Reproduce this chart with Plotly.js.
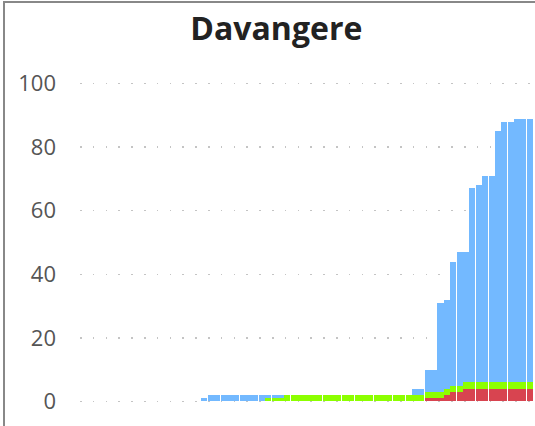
<!DOCTYPE html>
<html>
<head>
<meta charset="utf-8">
<script src="https://cdn.plot.ly/plotly-3.0.1.min.js"></script>
<style>
html, body { margin: 0; padding: 0; width: 535px; height: 426px; overflow: hidden; background: #fff; }
#frame { position: absolute; left: 3px; top: 1px; width: 556px; height: 460px; border: 2px solid #888; background: #fff; }
#chart { width: 556px; height: 460px; }
</style>
</head>
<body>
<div id="frame"><div id="chart"></div></div>
<script>
const chartTitle = "Davangere";
const dates = [
  "14 Mar","15 Mar","16 Mar","17 Mar","18 Mar","19 Mar","20 Mar","21 Mar","22 Mar","23 Mar",
  "24 Mar","25 Mar","26 Mar","27 Mar","28 Mar","29 Mar","30 Mar","31 Mar",
  "1 Apr","2 Apr","3 Apr","4 Apr","5 Apr","6 Apr","7 Apr","8 Apr","9 Apr","10 Apr",
  "11 Apr","12 Apr","13 Apr","14 Apr","15 Apr","16 Apr","17 Apr","18 Apr","19 Apr","20 Apr",
  "21 Apr","22 Apr","23 Apr","24 Apr","25 Apr","26 Apr","27 Apr","28 Apr","29 Apr","30 Apr",
  "1 May","2 May","3 May","4 May","5 May","6 May","7 May","8 May","9 May","10 May",
  "11 May","12 May","13 May","14 May","15 May","16 May","17 May","18 May","19 May","20 May",
  "21 May","22 May","23 May"
];
const deceased = [
  0,0,0,0,0,0,0,0,0,0,0,0,0,0,0,0,0,0,0,
  0,0,0,0,0,0,0,0,0,0,
  0,0,0,0,0,0,0,0,0,0,
  0,0,0,0,0,0,0,0,0,0,
  0,0,0,0,0,1,1,1,2,3,
  3,4,4,4,4,4,4,4,4,4,
  4,4
];
const recovered = [
  0,0,0,0,0,0,0,0,0,0,0,0,0,0,0,0,0,0,0,
  0,0,0,0,0,0,0,0,0,0,
  1,1,1,2,2,2,2,2,2,2,
  2,2,2,2,2,2,2,2,2,2,
  2,2,2,2,2,2,2,2,2,2,
  2,2,2,2,2,2,2,2,2,2,
  2,2
];
const active = [
  0,0,0,0,0,0,0,0,0,0,0,0,0,0,0,0,0,0,0,
  1,2,2,2,2,2,2,2,2,2,
  1,1,1,0,0,0,0,0,0,0,
  0,0,0,0,0,0,0,0,0,0,
  0,0,0,2,2,7,7,28,28,39,
  42,41,61,62,65,65,79,82,82,83,
  83,83
];
const yTicks = [0, 20, 40, 60, 80, 100];

const traces = [
  { type: "bar", name: "Deceased", x: dates, y: deceased, marker: { color: "#d84450" } },
  { type: "bar", name: "Recovered", x: dates, y: recovered, marker: { color: "#8cff00" } },
  { type: "bar", name: "Active", x: dates, y: active, marker: { color: "#73b9ff" } }
];

const layout = {
  width: 556, height: 460,
  margin: { l: 75, r: 28, t: 79, b: 60, pad: 0 },
  paper_bgcolor: "#ffffff", plot_bgcolor: "#ffffff",
  barmode: "stack", bargap: 0.05,
  showlegend: false,
  hovermode: false,
  title: {
    text: chartTitle,
    x: 0.488, xref: "container", xanchor: "center",
    y: 0.9435, yref: "container", yanchor: "middle",
    font: { family: "Open Sans, sans-serif", size: 32, color: "#222222", weight: "bold" }
  },
  xaxis: {
    type: "category",
    showticklabels: false, showgrid: false, zeroline: false, showline: false, ticks: "",
    range: [-0.5, dates.length - 0.5]
  },
  yaxis: {
    range: [-0.5, 100.5],
    tickvals: yTicks, ticktext: yTicks.map(String),
    showgrid: true, gridcolor: "#c4c4c4", gridwidth: 1.5, griddash: "1.5px,11.3px",
    zeroline: false, showline: false, ticks: "",
    ticklabelstandoff: 23,
    tickfont: { family: "Open Sans, sans-serif", size: 22, color: "#555555" }
  }
};

Plotly.newPlot("chart", traces, layout, { displayModeBar: false, staticPlot: true });
</script>
</body>
</html>
